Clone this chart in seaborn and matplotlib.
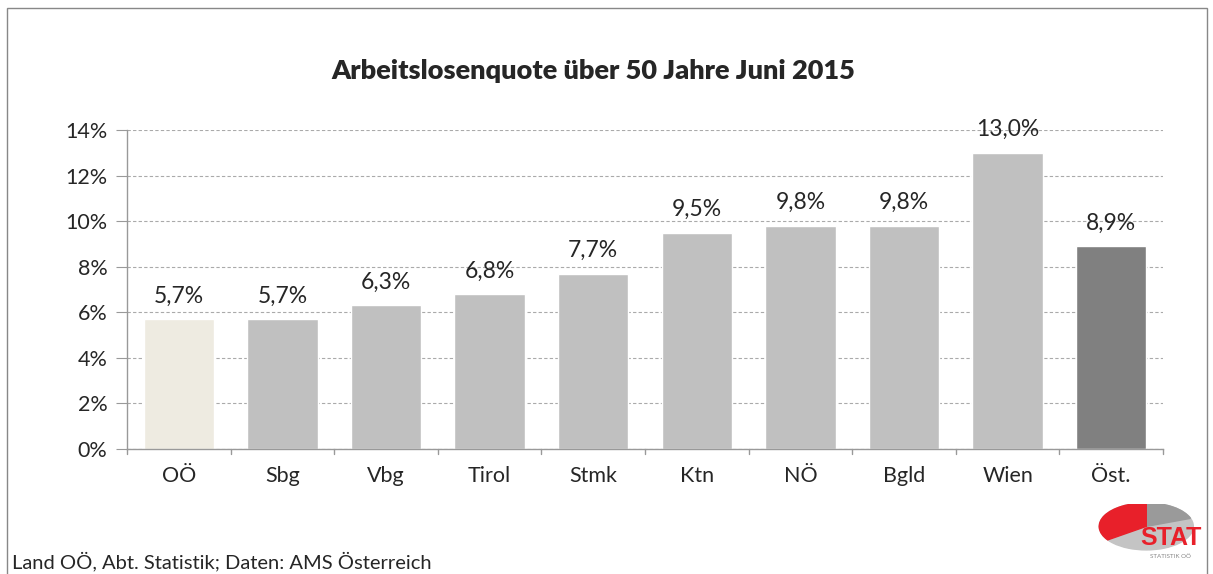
import numpy as np
import pandas as pd
import matplotlib
matplotlib.use("Agg")
import matplotlib.pyplot as plt
import seaborn as sns
from matplotlib.patches import Rectangle, Wedge

regions = ["OÖ", "Sbg", "Vbg", "Tirol", "Stmk", "Ktn", "NÖ", "Bgld", "Wien", "Öst."]
quote = [5.7, 5.7, 6.3, 6.8, 7.7, 9.5, 9.8, 9.8, 13.0, 8.9]
bar_colors = ["#EEEBE1"] + ["#C0C0C0"] * 8 + ["#808080"]

df = pd.DataFrame({"Region": regions, "Quote": quote})

sns.set_style("white")
plt.rcParams['font.family'] = ['Lato', 'DejaVu Sans']

fig = plt.figure(figsize=(12.13, 5.74), dpi=100)
ax = fig.add_axes([0.1047, 0.2178, 0.8541, 0.5557])

sns.barplot(data=df, x="Region", y="Quote", hue="Region", palette=bar_colors,
            legend=False, width=0.68, saturation=1, ax=ax)

ax.set_ylim(0, 14)
ax.set_yticks(np.arange(0, 15, 2))
ax.set_yticklabels([f"{v}%" for v in range(0, 15, 2)], fontsize=15.5)
ax.tick_params(axis="x", labelsize=15.5, length=0, pad=12)
ax.tick_params(axis="y", length=8, color="#999999", pad=6, direction="out", left=True)
ax.set_xlim(-0.5, len(regions) - 0.5)
for b in np.arange(-0.5, len(regions), 1):
    ax.plot([b, b], [0, -0.22], color="#999999", lw=1, clip_on=False)
ax.set_xlabel("")
ax.set_ylabel("")
ax.grid(axis="y", linestyle=(0, (3, 2)), color="#AAAAAA", lw=0.8)
ax.set_axisbelow(True)
for s in ["top", "right"]:
    ax.spines[s].set_visible(False)
for s in ["left", "bottom"]:
    ax.spines[s].set_color("#999999")
    ax.spines[s].set_linewidth(1)

for i, v in enumerate(quote):
    ax.text(i, v + 0.55, f"{v:.1f}%".replace(".", ","), ha="center", va="bottom", fontsize=16.5)

fig.text(0.4895, 0.877, "Arbeitslosenquote über 50 Jahre Juni 2015", ha="center", va="center",
         fontsize=19.5, fontweight="heavy")
fig.text(12 / 1213, 0.004, "Land OÖ, Abt. Statistik; Daten: AMS Österreich", ha="left", va="bottom",
         fontsize=14.5)

# outer frame
fig.patches.append(Rectangle((7 / 1213, -0.1), 1200 / 1213, 1 - 8 / 574 + 0.1,
                             transform=fig.transFigure, fill=False, edgecolor="#888888", lw=1))

# logo
lax = fig.add_axes([1097 / 1213, 14 / 574, 112 / 1213, 56 / 574])
lax.set_xlim(0, 1)
lax.set_ylim(0, 1)
lax.axis("off")
c = (0.44, 0.6)
lax.add_patch(Wedge(c, 0.42, 0, 360, color="#C4C4C4"))
lax.add_patch(Wedge(c, 0.42, 20, 90, color="#9A9A9A"))
lax.add_patch(Wedge(c, 0.42, 90, 215, color="#E8202A"))
lax.text(0.66, 0.4, "STAT", fontsize=18, fontweight="heavy", color="#E8202A", ha="center", va="center",
         family=["Liberation Sans"])
lax.text(0.66, 0.07, "STATISTIK OÖ", fontsize=4.5, color="#888888", ha="center", va="center")

fig.savefig("out.png", dpi=100)
